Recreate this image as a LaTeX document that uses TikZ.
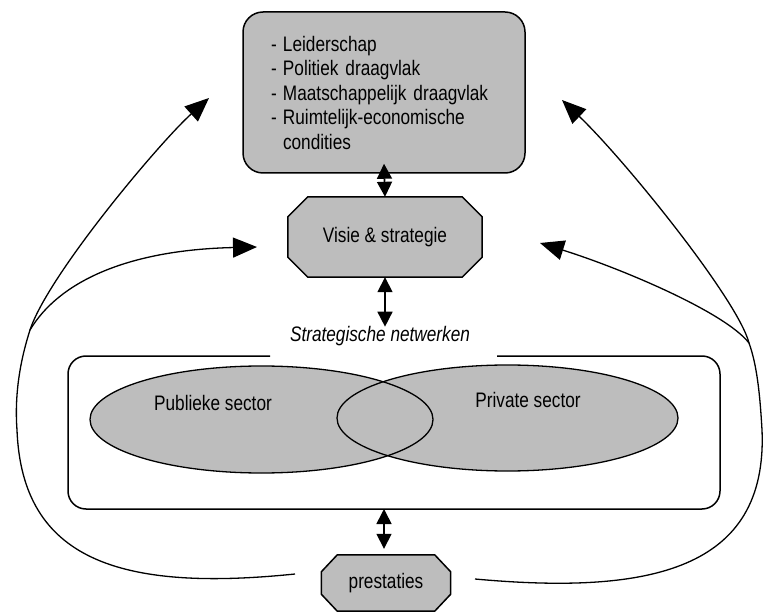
\documentclass[tikz,border=0pt]{standalone}
\usepackage{fontspec}
\setmainfont{Liberation Sans}[FakeStretch=0.82]
\usetikzlibrary{arrows.meta,backgrounds}

\begin{document}
\begin{tikzpicture}[x=1pt,y=-1pt,
  every node/.style={font=\fontsize{21}{24.5}\selectfont},
  shade/.style={fill=black!26},
  boxline/.style={draw=black, line width=1.5pt},
  twoway/.style={line width=1.6pt,
    {Triangle[length=15pt,width=15pt]}-{Triangle[length=15pt,width=15pt]}},
  feedback/.style={line width=1.3pt, -{Triangle[length=24pt,width=20pt]}},
  trunk/.style={line width=1.3pt},
]
\useasboundingbox (0,0) rectangle (771,612);

% conditions box
\node[boxline, shade, rounded corners=20pt, minimum width=282pt,
      minimum height=161pt, text width=226pt, align=left, inner xsep=28pt]
  (factors) at (384,92.5)
  {\makebox[12pt][l]{-}Leiderschap\\
   \makebox[12pt][l]{-}Politiek draagvlak\\
   \makebox[12pt][l]{-}Maatschappelijk draagvlak\\
   \makebox[12pt][l]{-}Ruimtelijk-economische\\
   \makebox[12pt][l]{}condities};

% vision and strategy (octagon drawn behind the text)
\node[minimum width=194pt, minimum height=80pt, inner sep=0pt] (visie)
  at (385,237) {Visie \& strategie};

% network label
\node[font=\fontsize{21}{24.5}\selectfont\itshape] (net) at (380,336)
  {Strategische netwerken};

% network frame, open at the top around the label
\coordinate (frameL) at (270,356);
\coordinate (frameR) at (497,356);
\coordinate (framebot) at (384,509);
\draw[boxline, rounded corners=18pt]
  (frameL) -- (68,356) -- (68,509) -- (720,509) -- (720,356) -- (frameR);

% sectors
\fill[shade] (261.5,419.5) ellipse [x radius=171.5, y radius=53.5];
\fill[shade] (507.5,418) ellipse [x radius=170.5, y radius=53];
\draw[line width=1.3pt] (261.5,419.5) ellipse [x radius=171.5, y radius=53.5];
\draw[line width=1.3pt] (507.5,418) ellipse [x radius=170.5, y radius=53];
\node (pubtext) at (213,403) {Publieke sector};
\node (privtext) at (528,400) {Private sector};

% performance
\node[minimum width=129pt, minimum height=56pt, inner sep=0pt] (prest)
  at (386,583) {prestaties};

\begin{scope}[on background layer]
  \filldraw[boxline, shade]
    ([xshift=20pt]visie.north west) -- ([xshift=-20pt]visie.north east)
    -- ([yshift=-20pt]visie.north east) -- ([yshift=20pt]visie.south east)
    -- ([xshift=-20pt]visie.south east) -- ([xshift=20pt]visie.south west)
    -- ([yshift=20pt]visie.south west) -- ([yshift=-20pt]visie.north west)
    -- cycle;
  \filldraw[boxline, shade]
    ([xshift=16pt]prest.north west) -- ([xshift=-16pt]prest.north east)
    -- ([yshift=-17pt]prest.north east) -- ([yshift=17pt]prest.south east)
    -- ([xshift=-16pt]prest.south east) -- ([xshift=16pt]prest.south west)
    -- ([yshift=17pt]prest.south west) -- ([yshift=-17pt]prest.north west)
    -- cycle;
\end{scope}

% vertical links
\draw[twoway] ([yshift=10pt]factors.south) -- (visie.north);
\draw[twoway, shorten >=-4pt] (visie.south) -- (visie.south |- net.north);
\draw[twoway, shorten >=6pt] (framebot) -- (framebot |- prest.north);

% feedback loops
\coordinate (lstart) at (295,574);
\coordinate (lsplit) at (30,330);
\coordinate (factorsL) at (209,98);
\coordinate (visieL) at (257,247);
\coordinate (rstart) at (475,579);
\coordinate (rsplit) at (749,343);
\coordinate (factorsR) at (562,100);
\coordinate (visieR) at (540,243);

\draw[trunk] (lstart) .. controls (120,592) and (22,560) .. (17,430)
  .. controls (14,390) and (22,355) .. (lsplit);
\draw[feedback] (lsplit) .. controls (48,275) and (160,142) .. (factorsL);
\draw[feedback] (lsplit) .. controls (58,283) and (125,250) .. (visieL);

\draw[trunk] (rstart) .. controls (650,595) and (768,570) .. (762,430)
  .. controls (760,395) and (757,365) .. (rsplit);
\draw[feedback] (rsplit) .. controls (738,300) and (625,160) .. (factorsR);
\draw[feedback] (rsplit) .. controls (725,312) and (620,268) .. (visieR);
\end{tikzpicture}
\end{document}
